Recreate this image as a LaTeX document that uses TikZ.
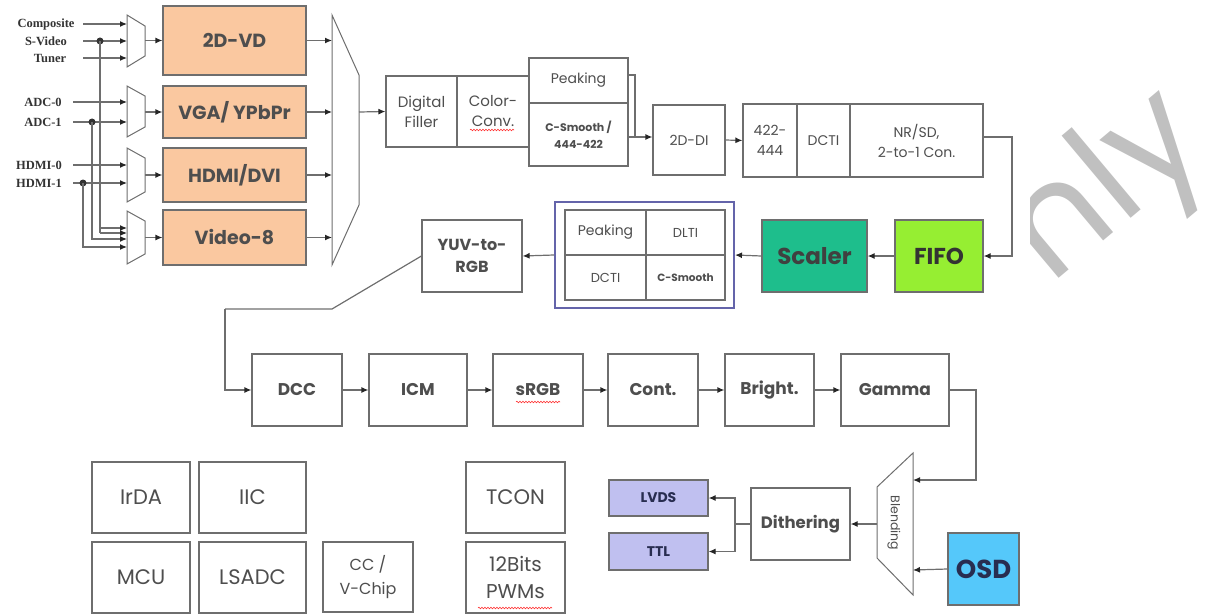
\documentclass[tikz,border=0pt]{standalone}
\usepackage{fontspec}
\setmainfont{Poppins}
\newfontfamily\serifb{Liberation Serif}
\usetikzlibrary{arrows.meta,decorations.pathmorphing}
\definecolor{lc}{RGB}{110,110,110}
\definecolor{tc}{RGB}{78,78,78}
\definecolor{peach}{RGB}{250,200,160}
\definecolor{scal}{RGB}{30,190,140}
\definecolor{fifo}{RGB}{150,238,50}
\definecolor{purp}{RGB}{100,100,170}
\definecolor{lav}{RGB}{192,192,240}
\definecolor{osd}{RGB}{85,200,250}
\definecolor{navy}{RGB}{40,45,80}
\definecolor{wm}{RGB}{192,192,192}
\newcommand\fsz[2]{\fontsize{#1}{#2}\selectfont}
\tikzset{
  box/.style={draw=lc, line width=1.2pt, fill=white, inner sep=0pt, align=center, text=tc, font=\fsz{16}{19}},
  pbox/.style={box, fill=peach, font=\bfseries\fsz{19}{22}},
  arr/.style={-{Latex[length=7pt,width=6pt,color=black!85]}, draw=lc, line width=1.2pt},
  ln/.style={draw=lc, line width=1.2pt},
  mux/.style={draw=lc, line width=1pt, fill=white},
  inlab/.style={font=\serifb\bfseries\fsz{12.5}{14}, text=black!80, inner sep=0pt},
  squig/.style={draw=red!80, line width=0.6pt, decorate, decoration={snake, amplitude=0.8pt, segment length=3pt}}
}
\begin{document}
\begin{tikzpicture}[x=1pt,y=-1pt]
\useasboundingbox (0,0) rectangle (1214,615);
% watermark (partly hidden)
\begin{scope}
\clip (1030,0) rectangle (1214,615);
\node[anchor=base east, rotate=40, text=wm, font=\fsz{145}{145}, inner sep=0pt] (wmk) at (1212,150) {Only};
\end{scope}

% ---------- input section ----------
\node[pbox, minimum width=143, minimum height=69] (vd) at (234.5,40.5) {2D-VD};
\node[pbox, minimum width=143, minimum height=52] (vga) at (234.5,112) {VGA/ YPbPr};
\node[pbox, minimum width=143, minimum height=54] (hdmi) at (234.5,175) {HDMI/DVI};
\node[pbox, minimum width=143, minimum height=55] (v8) at (234.5,237.5) {Video-8};

% input muxes
\draw[mux] (127,15) -- (145,26) -- (145,56) -- (127,67) -- cycle;
\draw[mux] (127,86) -- (145,96) -- (145,127) -- (127,137) -- cycle;
\draw[mux] (127,148) -- (145,158) -- (145,192) -- (127,202) -- cycle;
\draw[mux] (127,211) -- (145,221) -- (145,254) -- (127,264) -- cycle;
\coordinate (m1o) at (145,40.5);
\coordinate (m2o) at (145,112);
\coordinate (m3o) at (145,175);
\coordinate (m4o) at (145,237.5);
\draw[arr] (m1o) -- (vd.west);
\draw[arr] (m2o) -- (vga.west);
\draw[arr] (m3o) -- (hdmi.west);
\draw[arr] (m4o) -- (v8.west);

% input labels
\node[inlab] (lcomp) at (46,24) {Composite};
\node[inlab] (lsv) at (46,41) {S-Video};
\node[inlab] (ltun) at (50,58) {Tuner};
\node[inlab] (ladc0) at (43,102) {ADC-0};
\node[inlab] (ladc1) at (43,122) {ADC-1};
\node[inlab] (lhd0) at (39,165) {HDMI-0};
\node[inlab] (lhd1) at (39,183) {HDMI-1};
\coordinate (i1) at (127,24);
\coordinate (i2) at (127,41);
\coordinate (i3) at (127,58);
\coordinate (i4) at (127,102);
\coordinate (i5) at (127,122);
\coordinate (i6) at (127,165);
\coordinate (i7) at (127,183);
\draw[arr] (83,24) -- (i1);
\draw[arr] (83,41) -- (i2);
\draw[arr] (83,58) -- (i3);
\draw[arr] (73,102) -- (i4);
\draw[arr] (73,122) -- (i5);
\draw[arr] (73,165) -- (i6);
\draw[arr] (73,183) -- (i7);
\coordinate (d1) at (100,41);
\coordinate (d2) at (92,122);
\coordinate (d3) at (83,183);
\fill[black!80] (d1) circle (3.5) (d2) circle (3.5) (d3) circle (3.5);
\draw[ln] (d1) -- (100,233);
\draw[arr] (100,228) -- (127,228);
\draw[arr] (100,233) -- (127,233);
\draw[arr] (d2) |- (127,239);
\draw[arr] (d3) |- (127,247);

% big mux
\draw[mux] (332,15) -- (359,75) -- (359,205) -- (332,265) -- cycle;
\coordinate (Mi1) at (332,40.5);
\coordinate (Mi2) at (332,112);
\coordinate (Mi3) at (332,175);
\coordinate (Mi4) at (332,237.5);
\coordinate (Mo) at (359,112);
\draw[arr] (vd.east) -- (Mi1);
\draw[arr] (vga.east) -- (Mi2);
\draw[arr] (hdmi.east) -- (Mi3);
\draw[arr] (v8.east) -- (Mi4);

% ---------- front-end chain ----------
\node[box, minimum width=71, minimum height=71, font=\fsz{15}{20}] (df) at (421.5,111.5) {Digital\\Filler};
\node[box, minimum width=72, minimum height=71, font=\fsz{15}{20}] (cc) at (493,111.5) {Color-\\Conv.};
\node[box, minimum width=99, minimum height=45, font=\fsz{14}{17}] (pk) at (578.5,80.5) {Peaking};
\node[box, minimum width=99, minimum height=63, font=\bfseries\fsz{11}{17}] (cs) at (578.5,134.5) {C-Smooth /\\444-422};
\draw[arr] (Mo) -- (df.west);
\draw[squig] (470,130) -- (514,130);

\node[box, minimum width=72, minimum height=70, font=\fsz{14}{17}] (di) at (689,140) {2D-DI};
\draw[ln] (628,75) -- (635,75) -- (635,137);
\draw[arr] (628,137) -- (di.west |- 0,137);

\node[box, minimum width=54, minimum height=73, font=\fsz{14}{20}] (c42) at (770,140.5) {422-\\444};
\node[box, minimum width=53, minimum height=73, font=\fsz{14}{17}] (dcti1) at (823.5,140.5) {DCTI};
\node[box, minimum width=133, minimum height=73, font=\fsz{14}{20}] (nr) at (916.5,140.5) {NR/SD,\\2-to-1 Con.};
\draw[arr] (di.east) -- (c42.west);

\node[box, fill=fifo, minimum width=88, minimum height=72, font=\bfseries\fsz{23}{26}, text=black!80] (ff) at (939,256) {FIFO};
\node[box, fill=scal, minimum width=105, minimum height=72, font=\bfseries\fsz{23}{26}, text=black!75] (sc) at (814.5,256) {Scaler};
\draw[arr] (nr.east |- 0,137) -- (1012,137) |- (ff.east);
\draw[arr] (ff.west) -- (sc.east);

\node[draw=purp, line width=2pt, fill=white, minimum width=179, minimum height=106, inner sep=0pt] (pg) at (644.5,255) {};
\node[box, minimum width=81, minimum height=45, font=\fsz{14}{17}] (pk2) at (605.5,232.5) {Peaking};
\node[box, minimum width=79, minimum height=45, font=\fsz{13}{17}] (dl) at (685.5,232.5) {DLTI};
\node[box, minimum width=81, minimum height=45, font=\fsz{13}{17}] (dc2) at (605.5,277.5) {DCTI};
\node[box, minimum width=79, minimum height=45, font=\bfseries\fsz{10.5}{17}] (cs2) at (685.5,277.5) {C-Smooth};
\draw[arr] (sc.west) -- (pg.east);

\node[box, minimum width=100, minimum height=72, font=\bfseries\fsz{16}{22}] (yuv) at (472,256) {YUV-to-\\RGB};
\draw[arr] (pg.west) -- (yuv.east);

% ---------- back-end chain ----------
\node[box, minimum width=90, minimum height=72, font=\bfseries\fsz{17}{20}] (dcc) at (297,390) {DCC};
\node[box, minimum width=98, minimum height=72, font=\bfseries\fsz{17}{20}] (icm) at (418,390) {ICM};
\node[box, minimum width=90, minimum height=72, font=\bfseries\fsz{17}{20}] (srgb) at (538,390) {sRGB};
\node[box, minimum width=90, minimum height=72, font=\bfseries\fsz{17}{20}] (cont) at (653,390) {Cont.};
\node[box, minimum width=89, minimum height=72, font=\bfseries\fsz{17}{20}] (bri) at (769.5,390) {Bright.};
\node[box, minimum width=108, minimum height=72, font=\bfseries\fsz{17}{20}] (gam) at (895,390) {Gamma};
\draw[squig] (516,402) -- (560,402);
\draw[ln] (yuv.west) -- (332,309) -- (225,309);
\draw[arr] (225,309) |- (dcc.west);
\draw[arr] (dcc) -- (icm);
\draw[arr] (icm) -- (srgb);
\draw[arr] (srgb) -- (cont);
\draw[arr] (cont) -- (bri);
\draw[arr] (bri) -- (gam);

% blending
\draw[mux] (877,487) -- (913,453) -- (913,595) -- (877,558) -- cycle;
\node[rotate=-90, font=\fsz{12.5}{14}, text=tc, inner sep=0pt] (blab) at (894,523) {Blending};
\coordinate (bi1) at (913,480);
\coordinate (bi2) at (913,570);
\coordinate (bo) at (877,524);
\draw[arr] (gam.east) -- (976,390) |- (bi1);
\node[box, fill=osd, minimum width=71, minimum height=72, font=\bfseries\fsz{26}{28}, text=navy] (osd) at (983.5,569) {OSD};
\draw[arr] (osd.west) -- (bi2);
\node[box, minimum width=99, minimum height=72, font=\bfseries\fsz{16.5}{20}] (dith) at (800.5,524) {Dithering};
\draw[arr] (bo) -- (dith.east);
\node[box, fill=lav, minimum width=99, minimum height=36, font=\bfseries\fsz{14}{17}, text=navy] (lvds) at (658.5,498) {LVDS};
\node[box, fill=lav, minimum width=99, minimum height=37, font=\bfseries\fsz{14}{17}, text=navy] (ttl) at (658.5,551.5) {TTL};
\draw[ln] (dith.west) -- (735,524);
\draw[arr] (735,524) |- (lvds.east);
\draw[arr] (735,524) |- (ttl.east);

% ---------- peripheral blocks ----------
\node[box, minimum width=98, minimum height=71, font=\fsz{21}{24}] (irda) at (141,497.5) {IrDA};
\node[box, minimum width=107, minimum height=71, font=\fsz{21}{24}] (iic) at (252.5,497.5) {IIC};
\node[box, minimum width=98, minimum height=71, font=\fsz{21}{24}] (mcu) at (141,577.5) {MCU};
\node[box, minimum width=107, minimum height=71, font=\fsz{21}{24}] (lsadc) at (252.5,577.5) {LSADC};
\node[box, minimum width=90, minimum height=70, font=\fsz{16}{24}] (ccv) at (368,577) {CC /\\V-Chip};
\node[box, minimum width=99, minimum height=71, font=\fsz{21}{24}] (tcon) at (515.5,497.5) {TCON};
\node[box, minimum width=99, minimum height=71, font=\fsz{20}{27}] (pwm) at (515.5,577.5) {12Bits\\PWMs};
\draw[squig] (478,608) -- (552,608);
\end{tikzpicture}
\end{document}
